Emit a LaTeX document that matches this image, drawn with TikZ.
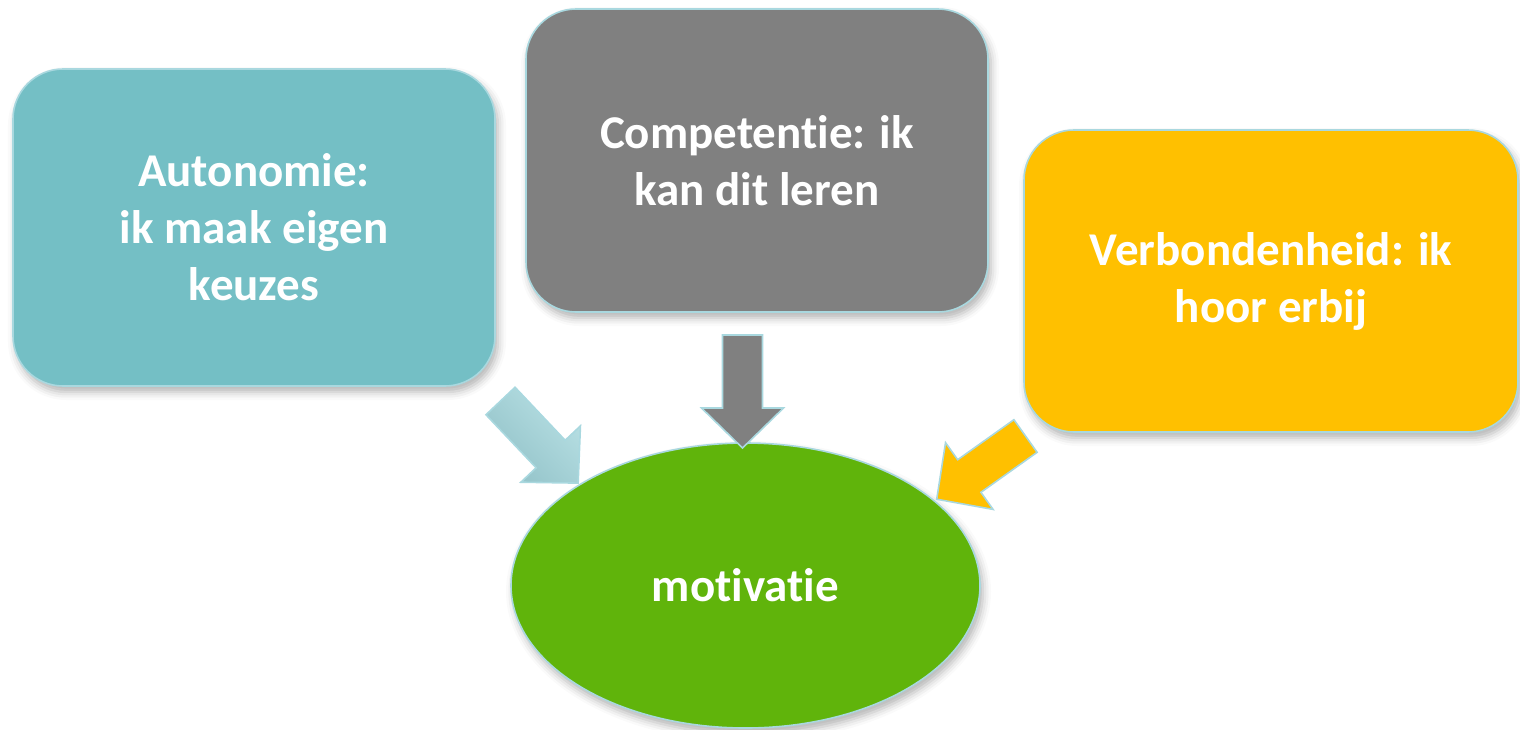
\documentclass[tikz,border=0pt]{standalone}
\usepackage{fontspec}
\setmainfont{Carlito}[Ligatures=CommonOff]
\usetikzlibrary{shapes.geometric,shadows.blur}
\definecolor{teal1}{HTML}{74BFC5}
\definecolor{grey1}{HTML}{808080}
\definecolor{gold1}{HTML}{FFC000}
\definecolor{green1}{HTML}{60B40B}
\definecolor{rim}{HTML}{A9D8DF}
\definecolor{tealdark}{HTML}{92C2C8}
\definecolor{teallight}{HTML}{B8E0E4}
\tikzset{
  softshadow/.style={blur shadow={shadow xshift=1.5pt, shadow yshift=-3pt, shadow blur radius=4pt, shadow opacity=30}},
  box/.style={rounded corners=25pt, draw=rim, line width=0.8pt, text=white,
    font=\fontsize{23.5}{28.5}\selectfont\bfseries, align=center, inner sep=0pt, softshadow},
  oval/.style={ellipse, draw=rim, line width=0.8pt, fill=green1, text=white,
    font=\fontsize{23.5}{28.5}\selectfont\bfseries, inner sep=0pt, softshadow},
  barrow/.pic={\path[pic actions] (0,-20) -- (#1-40,-20) -- (#1-40,-41) -- (#1,0) -- (#1-40,41) -- (#1-40,20) -- (0,20) -- cycle;},
  arrowlook/.style={draw=rim, line width=0.8pt, softshadow}
}
\begin{document}
\begin{tikzpicture}[x=0.5pt,y=-0.5pt]
\useasboundingbox (0,0) rectangle (1520,729);
\node[box, fill=teal1, minimum width=241pt, minimum height=158.5pt] (auto) at (254,227.5) {Autonomie:\\ik maak eigen\\keuzes};
\node[box, fill=grey1, minimum width=231pt, minimum height=151.5pt] (comp) at (757,160.5) {Competentie: ik\\kan dit leren};
\node[box, fill=gold1, minimum width=247pt, minimum height=151pt] (verb) at (1271,281) {Verbondenheid: ik\\hoor erbij};
\node[oval, minimum width=234.5pt, minimum height=142.5pt] (mot) at (745.5,585.5) {motivatie};
\coordinate (ta) at (500.5,401);
\coordinate (tc) at (742.5,335);
\coordinate (tv) at (1025.5,436);
\pic[arrowlook, top color=teallight, bottom color=tealdark, shading angle=-46.6, rotate=-46.6] at (ta) {barrow=113};
\pic[arrowlook, fill=grey1, rotate=-90] at (tc) {barrow=113};
\pic[arrowlook, fill=gold1, rotate=-144.55] at (tv) {barrow=109};
\end{tikzpicture}
\end{document}
